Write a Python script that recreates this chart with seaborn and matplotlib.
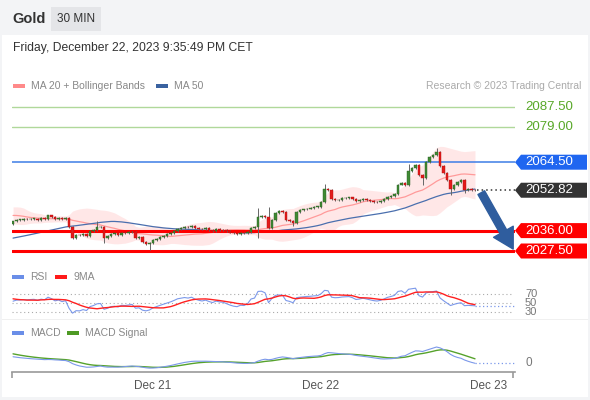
import numpy as np
import pandas as pd
import matplotlib
matplotlib.use('Agg')
import matplotlib.pyplot as plt
import seaborn as sns
from matplotlib.patches import Polygon, Rectangle, FancyArrowPatch
from matplotlib.transforms import Bbox, TransformedBbox

sns.set_theme(style='white')
plt.rcParams['font.family'] = ['Liberation Sans', 'DejaVu Sans']

# 30 min closes before the visible window (only used to warm up the indicators)
prior_closes = [2027.0, 2026.4, 2025.8, 2026.2, 2025.5, 2024.9, 2025.3, 2024.6, 2025.0, 2025.8,
                2026.1, 2025.4, 2024.8, 2025.2, 2026.0, 2026.6, 2025.9, 2025.1, 2024.7, 2025.5,
                2026.3, 2025.6, 2026.8, 2026.0, 2025.4, 2026.2, 2027.5, 2028.9,
                2034.5, 2038.2, 2041.0, 2043.5, 2044.8, 2046.1, 2045.2, 2044.0, 2043.1, 2042.4,
                2043.6, 2042.8, 2041.9, 2042.5, 2041.6, 2040.9, 2041.7, 2040.6, 2041.3, 2040.2,
                2039.5]

# visible candles (closes), from Dec 20 04:00 CET
first_open = 2038.6
closes = [2039.8, 2040.5, 2040.6, 2040.8, 2040.7, 2040.9, 2041.0, 2040.6, 2041.2, 2041.0,
          2042.3, 2041.8, 2041.0, 2041.4, 2040.8, 2041.2, 2037.5, 2033.0, 2034.2, 2034.0,
          2034.6, 2033.8, 2035.8, 2036.4, 2037.4, 2037.6, 2033.0, 2033.6, 2034.6, 2034.8,
          2034.2, 2035.2, 2035.0, 2035.3, 2035.6, 2033.0, 2033.2, 2031.2, 2030.6, 2031.0,
          2032.0, 2032.6, 2033.2, 2033.8, 2034.4, 2035.0, 2035.8, 2036.8, 2037.2, 2037.6,
          2037.4, 2037.9, 2037.2, 2036.8, 2036.5, 2036.9, 2036.4, 2036.0, 2036.6, 2036.3,
          2036.2, 2035.7, 2035.2, 2034.8, 2034.6, 2035.0, 2034.9, 2035.4, 2037.0, 2037.4,
          2041.8, 2042.0, 2041.5, 2037.2, 2040.5, 2043.5, 2044.0, 2043.8, 2040.6, 2040.0,
          2039.0, 2043.8, 2044.4, 2044.8, 2045.2, 2045.4, 2045.8, 2046.0, 2048.0, 2053.2,
          2053.0, 2049.0, 2048.6, 2048.8, 2049.4, 2049.6, 2049.8, 2049.2, 2048.2, 2048.6,
          2049.2, 2048.8, 2048.4, 2048.0, 2047.8, 2048.2, 2049.0, 2050.0, 2050.6, 2051.4,
          2055.2, 2056.0, 2055.0, 2061.0, 2062.2, 2063.4, 2059.0, 2058.0, 2064.5, 2066.5,
          2067.5, 2068.8, 2063.0, 2060.0, 2057.0, 2053.5, 2055.0, 2056.2, 2057.0, 2053.0,
          2053.4, 2053.1, 2052.82]

# long wicks (bar index -> price)
spike_highs = {24: 2040.2, 70: 2045.5, 73: 2046.0, 89: 2055.5, 113: 2063.8, 121: 2070.3}
spike_lows = {26: 2031.0, 39: 2028.0, 70: 2033.0, 80: 2037.8, 117: 2055.0, 125: 2051.0, 129: 2051.8}

resistances = [2087.50, 2079.00]
pivot = 2064.50
supports = [2036.00, 2027.50]
last_price = 2052.82
rsi_levels = [70, 50, 30]
day_labels = ['Dec 21', 'Dec 22', 'Dec 23']
day_dates = ['2023-12-21', '2023-12-22', '2023-12-23']

# ---- indicators ----
n = len(closes)
allc = pd.Series(prior_closes + closes)
ma20 = allc.rolling(20).mean()
sd20 = allc.rolling(20).std(ddof=0)
ma50 = allc.rolling(50).mean()
delta = allc.diff()
gain = delta.clip(lower=0).ewm(alpha=1 / 14, adjust=False).mean()
loss = (-delta.clip(upper=0)).ewm(alpha=1 / 14, adjust=False).mean()
rsi = 100 - 100 / (1 + gain / loss)
rsi_ma = rsi.rolling(9).mean()
macd = allc.ewm(span=12, adjust=False).mean() - allc.ewm(span=26, adjust=False).mean()
signal = macd.ewm(span=9, adjust=False).mean()

sl = slice(len(prior_closes), None)
ma20, sd20, ma50 = ma20[sl].values, sd20[sl].values, ma50[sl].values
rsi, rsi_ma, macd, signal = rsi[sl].values, rsi_ma[sl].values, macd[sl].values, signal[sl].values
upper, lower = ma20 + 2 * sd20, ma20 - 2 * sd20

idx = np.arange(n)
opens = np.array([first_open] + closes[:-1])
cl = np.array(closes)
highs = np.maximum(opens, cl) + 0.4
lows = np.minimum(opens, cl) - 0.4
for k, v in spike_highs.items():
    highs[k] = v
for k, v in spike_lows.items():
    lows[k] = v

times = pd.date_range('2023-12-20 04:00', periods=n, freq='30min')
day_pos = [(pd.Timestamp(d) - times[0]) / pd.Timedelta('30min') for d in day_dates]

W, H = 590, 400
fig = plt.figure(figsize=(W / 100, H / 100), dpi=100)
fig.patch.set_facecolor('#f3f4f6')


def fx(px):
    return px / W


def fy(py):
    return 1 - py / H


# white card + header
fig.patches.append(Rectangle((fx(2), fy(397)), fx(586), (397 - 35) / H, transform=fig.transFigure,
                             facecolor='white', edgecolor='none', zorder=-5))
fig.patches.append(Rectangle((fx(51), fy(31)), fx(50), 24 / H, transform=fig.transFigure,
                             facecolor='#e4e5e8', edgecolor='none', zorder=1))
fig.text(fx(12), fy(19), 'Gold', fontsize=10.5, fontweight='bold', color='#333333', va='center')
fig.text(fx(76), fy(19), '30 MIN', fontsize=8.5, color='#333333', va='center', ha='center')
fig.text(fx(13), fy(48), 'Friday, December 22, 2023 9:35:49 PM CET', fontsize=8.7,
         color='#333333', va='center')
fig.patches.append(Rectangle((fx(2), fy(320)), fx(586), 1 / H, transform=fig.transFigure,
                             facecolor='#f0f0f0', edgecolor='none', zorder=-4))


def legend_item(x, y, color, label, w=12):
    fig.patches.append(Rectangle((fx(x), fy(y + 2)), fx(w), 4 / H, transform=fig.transFigure,
                                 facecolor=color, edgecolor='none'))
    fig.text(fx(x + w + 6), fy(y), label, fontsize=7.5, color='#888888', va='center')


legend_item(13, 86, '#ff8a8a', 'MA 20 + Bollinger Bands')
legend_item(156, 86, '#3a62a0', 'MA 50')
fig.text(fx(581), fy(86), 'Research \u00a9 2023 Trading Central', fontsize=7.5,
         color='#aaaaaa', va='center', ha='right')
legend_item(12, 277, '#6a8ee8', 'RSI')
legend_item(55, 277, '#ff1a1a', '9MA')
legend_item(12, 333, '#6a8ee8', 'MACD')
legend_item(67, 333, '#4e9a24', 'MACD Signal')

x0, x1 = 12, 515
xlim = (-0.3, (x1 - 13) / 3.5)

# ---- price panel ----
ax = fig.add_axes([fx(x0), fy(262), fx(x1 - x0), (262 - 95) / H])
ppu = 2.4
ylo = 2027.5 - (262 - 251) / ppu
yhi = 2087.5 + (107 - 95) / ppu
ax.set_xlim(*xlim)
ax.set_ylim(ylo, yhi)
ax.axis('off')
ax.patch.set_alpha(0)

ax.fill_between(idx, lower, upper, color='#ffe2e2', alpha=0.8, lw=0, zorder=1)
sns.lineplot(x=idx, y=ma20, ax=ax, color='#ff9a9a', linewidth=0.9, zorder=2)
sns.lineplot(x=idx, y=ma50, ax=ax, color='#4a6fae', linewidth=0.9, zorder=2)

for r in resistances:
    ax.axhline(r, color='#b0d89a', lw=1, zorder=1)
ax.axhline(pivot, color='#3d7de6', lw=1.1, zorder=1)
for s in supports:
    ax.axhline(s, color='#ff0000', lw=2.2, zorder=3)
ax.hlines(last_price, n - 0.5, xlim[1], colors='#333333', lw=1.1, linestyles=(0, (1, 2)), zorder=3)

up = cl >= opens
ax.vlines(idx, lows, highs, color='#666666', lw=0.7, zorder=4)
body_lo = np.minimum(opens, cl)
body_h = np.maximum(np.abs(cl - opens), 0.25)
ax.bar(idx[up], body_h[up], bottom=body_lo[up], width=0.7, color='#3f8a34',
       edgecolor='#2b5e22', lw=0.3, zorder=5)
ax.bar(idx[~up], body_h[~up], bottom=body_lo[~up], width=0.7, color='#e31a1a',
       edgecolor='#b01010', lw=0.3, zorder=5)

arrow = FancyArrowPatch((n + 0.4, last_price), (n + 10.3, supports[1] - 0.2),
                        arrowstyle='simple,head_width=1.25,head_length=1.1,tail_width=0.42',
                        mutation_scale=13, color='#2f5d9e', zorder=6)
ax.add_patch(arrow)

# right side tags
fig.canvas.draw()


def tag(price, text, face, txtcol='white'):
    yd = ax.transData.transform((0, price))[1]
    yp = H - yd
    if face is not None:
        pts = [(515, yp), (521, yp - 7.5), (587, yp - 7.5), (587, yp + 7.5), (521, yp + 7.5)]
        fig.patches.append(Polygon([(fx(a), fy(b)) for a, b in pts], closed=True,
                                   transform=fig.transFigure, facecolor=face, edgecolor='none'))
    fig.text(fx(525), fy(yp), text, fontsize=9.5, color=txtcol, va='center')


for r in resistances:
    tag(r, f'{r:.2f}', None, '#58a828')
tag(pivot, f'{pivot:.2f}', '#1f66f0')
tag(last_price, f'{last_price:.2f}', '#333333')
for s in supports:
    tag(s, f'{s:.2f}', '#ff0000')

# ---- RSI panel ----
axr = fig.add_axes([fx(x0), fy(318), fx(x1 - x0), 34 / H])
rppu = 0.45
axr.set_xlim(*xlim)
axr.set_ylim(30 - (318 - 312) / rppu, 70 + (294 - 284) / rppu)
axr.axis('off')
axr.patch.set_alpha(0)
for lv in rsi_levels:
    axr.axhline(lv, color='#aaaaaa', lw=0.8, linestyle=(0, (1, 2.5)), xmax=0.995)
sns.lineplot(x=idx, y=rsi, ax=axr, color='#7b98ea', linewidth=0.8)
sns.lineplot(x=idx, y=rsi_ma, ax=axr, color='#ff2020', linewidth=1.0)
axr.hlines(rsi[-1], n - 1, xlim[1], colors='#7b98ea', lw=0.9, linestyles=(0, (1, 2)))
# level labels sit on white boxes that overlap one another, bottom one clipped by the panel
clip = TransformedBbox(Bbox([[0, fy(316)], [1, 1]]), fig.transFigure)
for lv in rsi_levels:
    yp = 294 + (70 - lv) * rppu
    t = fig.text(fx(525), fy(yp), str(lv), fontsize=8, color='#777777', va='center',
                 bbox=dict(facecolor='white', edgecolor='none', pad=0.0))
    t.set_clip_box(clip)
    t.set_clip_on(True)

# ---- MACD panel ----
axm = fig.add_axes([fx(x0), fy(372), fx(x1 - x0), 34 / H])
mppu = 16 / np.nanmax(macd)
axm.set_xlim(*xlim)
axm.set_ylim(-(372 - 363) / mppu, (363 - 338) / mppu)
axm.patch.set_alpha(0)
sns.lineplot(x=idx, y=signal, ax=axm, color='#56a22c', linewidth=1.0)
sns.lineplot(x=idx, y=macd, ax=axm, color='#7b98ea', linewidth=0.8)
axm.hlines(macd[-1], n - 1, xlim[1], colors='#7b98ea', lw=0.9, linestyles=(0, (1, 2)))
fig.text(fx(525), fy(363), '0', fontsize=8.5, color='#777777', va='center')
for side in ['top', 'right', 'left']:
    axm.spines[side].set_visible(False)
axm.spines['bottom'].set_color('#999999')
axm.spines['bottom'].set_linewidth(1.2)
axm.set_yticks([])
axm.set_xticks([xlim[0] + 0.1, xlim[1] - 0.6])
axm.set_xticklabels(['', ''])
axm.set_xticks(day_pos, minor=True)
axm.set_xticklabels(day_labels, minor=True, fontsize=8.5, color='#555555')
axm.tick_params(axis='x', which='major', length=4, width=1.2, color='#999999', bottom=True)
axm.tick_params(axis='x', which='minor', length=0, pad=6, bottom=True)
axm.set_xlabel('')
axm.set_ylabel('')

fig.savefig('out.png', dpi=100, facecolor=fig.get_facecolor())
